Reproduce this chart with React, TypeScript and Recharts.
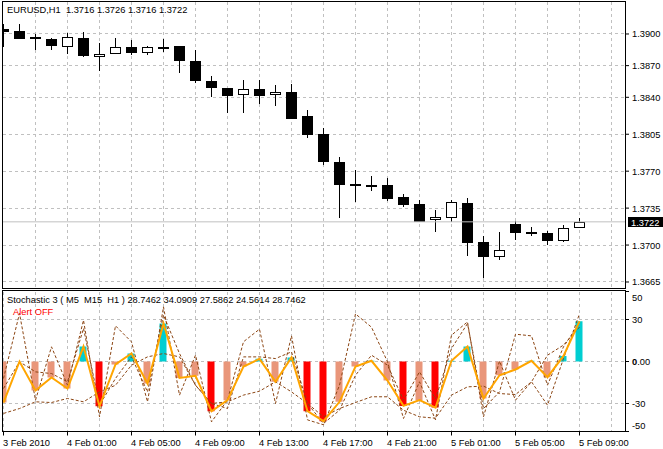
import {
  Bar,
  CartesianGrid,
  Cell,
  ComposedChart,
  Line,
  ReferenceLine,
  XAxis,
  YAxis,
} from "recharts";

const opens = [
  1.3905, 1.3903, 1.3897, 1.3895, 1.3888, 1.3896, 1.3878, 1.3881, 1.3888, 1.3882,
  1.3888, 1.3889, 1.3874, 1.3855, 1.3849, 1.3842, 1.3848, 1.3842, 1.3845, 1.3822,
  1.3805, 1.3779, 1.3758, 1.3757, 1.3757, 1.3746, 1.3739, 1.3724, 1.3726, 1.374,
  1.3703, 1.3689, 1.372, 1.3712, 1.3711, 1.3704, 1.3716,
];
const highs = [
  1.3909, 1.3909, 1.39, 1.3896, 1.3901, 1.3902, 1.3891, 1.3896, 1.3894, 1.3889,
  1.3895, 1.3889, 1.3885, 1.386, 1.3849, 1.3856, 1.3856, 1.3852, 1.3853, 1.3828,
  1.3811, 1.3783, 1.3771, 1.3765, 1.3764, 1.3748, 1.3743, 1.3733, 1.3743, 1.3745,
  1.3709, 1.3712, 1.3723, 1.3717, 1.3713, 1.3719, 1.3726,
];
const lows = [
  1.3888, 1.3895, 1.3885, 1.3885, 1.3881, 1.3878, 1.3865, 1.3881, 1.388, 1.388,
  1.3883, 1.3863, 1.3854, 1.384, 1.3825, 1.3825, 1.3834, 1.3832, 1.3819, 1.3801,
  1.3776, 1.3726, 1.3741, 1.3751, 1.3742, 1.3736, 1.3722, 1.3712, 1.3722, 1.369,
  1.3669, 1.3686, 1.3705, 1.3709, 1.37, 1.3703, 1.3716,
];
const closes = [
  1.3902, 1.3895, 1.3895, 1.3889, 1.3897, 1.3879, 1.3881, 1.3888, 1.3882, 1.3888,
  1.3887, 1.3874, 1.3855, 1.3849, 1.3841, 1.3848, 1.3841, 1.3845, 1.3819, 1.3804,
  1.3779, 1.3757, 1.3756, 1.3755, 1.3744, 1.3738, 1.3722, 1.3727, 1.3741, 1.3702,
  1.3689, 1.3695, 1.3711, 1.371, 1.3704, 1.3716, 1.3722,
];

// orange line, also the histogram height
const signal = [
  -29.3, 0, -20.7, -11.4, -19.3, 10.7, -32, -2.1, 5.7, -15.7, 27.1, -11.7, -10.2,
  -35.5, -27.6, -3.6, 1.9, -14.5, 2.9, -35.5, -42.6, -28.8, -3.6, 0.5, -13.6, -31.7,
  -27.6, -32.9, 0.5, 10.7, -26.4, -9.8, -5.7, 0.5, -11.2, 4, 28.7462,
];
const m5 = [
  -12.1, 34.3, -27.6, 10.5, -16.9, 29.5, -39.5, 25.5, 14, -28.8, 39, -24, 4.5, -43.1,
  -27.6, 14.1, 23.1, -30, 18.3, -41.7, -45.2, -17, 34, 24.5, -0.2, -40.7, -14.5, -41.7,
  18.8, 28.3, -39.5, 0.2, -27.6, -14.5, -31.2, 2.1, 34.0909,
];
const m15 = [
  -19.3, -0.2, -7.4, -8.6, -14.5, 23.6, -31.2, -12.1, 3.3, -21.7, 33.1, 5.7, -16.9, -30,
  -33.6, 3.3, 3.3, 2.1, 6.9, -30, -44.3, -34.8, -9.8, 4.5, -2.6, -27.6, -7.4, -26.7,
  9.3, 27.1, -33.6, -21.7, 19.5, 18.3, -16.9, 10.5, 27.5862,
];
const h1 = [
  -37.1, -33.6, -28.8, -29.3, -26.4, -28.8, -21.7, -17, -2.6, 3.3, 5.7, 3.3, -17, -30,
  -28.8, -24, -21.2, -14.5, -21.7, -30, -39.5, -33.6, -29.3, -25.2, -25.2, -34.8, -39.5,
  -40.5, -24, -18.1, -17.6, -22.9, -23.6, -14.5, 4.5, 11.7, 24.5614,
];

const priceTicks = [1.39, 1.387, 1.384, 1.3805, 1.377, 1.3735, 1.37, 1.3665];
const stochTicks = [50, 30, 0, -30, -50];
const stochGrid = [30, 0, -30];
const timeTicks = [0, 4, 8, 12, 16, 20, 24, 28, 32, 36];
const timeLabels = [
  "3 Feb 2010",
  "4 Feb 01:00",
  "4 Feb 05:00",
  "4 Feb 09:00",
  "4 Feb 13:00",
  "4 Feb 17:00",
  "4 Feb 21:00",
  "5 Feb 01:00",
  "5 Feb 05:00",
  "5 Feb 09:00",
];
const gridSlots = [0, 2, 4, 6, 8, 10, 12, 14, 16, 18, 20, 22, 24, 26, 28, 30, 32, 34, 36, 38];
const lastPrice = 1.3722;

const candles = opens.map((o, i) => ({
  i,
  o,
  c: closes[i],
  range: [lows[i], highs[i]],
}));
const stoch = signal.map((v, i) => ({ i, v, m5: m5[i], m15: m15[i], h1: h1[i] }));

const FONT = '"Liberation Sans", Arial, sans-serif';
const FS = 9.3;
const GRID = "#c0c0c0";
const xDomain = [-0.03125, 38.84375];

function Candle(props: any) {
  const { x, y, width, height, payload } = props;
  const [lo, hi] = payload.range;
  const k = height / (hi - lo || 1);
  const top = Math.round(y + (hi - Math.max(payload.o, payload.c)) * k);
  const bottom = Math.round(y + (hi - Math.min(payload.o, payload.c)) * k);
  const cx = Math.floor(x + width / 2) + 0.5;
  const up = payload.c > payload.o;
  return (
    <g shapeRendering="crispEdges">
      <line x1={cx} x2={cx} y1={Math.round(y)} y2={Math.round(y + height)} stroke="#000" />
      {up ? (
        <rect x={cx - 5} y={top + 0.5} width={10} height={Math.max(bottom - top - 1, 1)} fill="#fff" stroke="#000" />
      ) : (
        <rect x={cx - 5.5} y={top} width={11} height={Math.max(bottom - top, 2)} fill="#000" />
      )}
    </g>
  );
}

function PriceTick(props: any) {
  const { x, y, payload } = props;
  return (
    <text x={x + 1} y={y + 3.5} fontFamily={FONT} fontSize={FS} fill="#000">
      {payload.value.toFixed(4)}
    </text>
  );
}

function StochTick(props: any) {
  const { x, y, payload } = props;
  const v = payload.value;
  // MT4 pushes the extreme labels inside the window
  const shift = v === 50 ? 6 : v === -50 ? -6 : 0;
  return (
    <text x={x + 1} y={y + 3.5 + shift} fontFamily={FONT} fontSize={FS} fill="#000">
      {v === 0 ? (
        <>
          <tspan fontWeight="bold">0</tspan>.00
        </>
      ) : (
        v
      )}
    </text>
  );
}

function TimeTick(props: any) {
  const { x, y, payload, index } = props;
  return (
    <text x={x - 0.5} y={y + 8} fontFamily={FONT} fontSize={FS} fill="#000">
      {timeLabels[index] ?? payload.value}
    </text>
  );
}

function PriceTag(props: any) {
  const { viewBox } = props;
  const ty = Math.round(viewBox.y);
  return (
    <g>
      <rect x={628} y={ty - 5} width={35} height={10} fill="#000" />
      <text x={631} y={ty + 3.5} fontFamily={FONT} fontSize={FS} fill="#fff">
        {lastPrice.toFixed(4)}
      </text>
    </g>
  );
}

const label = (left: number, top: number, color = "#000") =>
  ({
    position: "absolute",
    left,
    top,
    fontFamily: FONT,
    fontSize: FS,
    lineHeight: "12px",
    color,
    whiteSpace: "pre",
  }) as const;

const frame = (top: number, height: number) =>
  ({
    position: "absolute",
    left: 2,
    top,
    width: 624,
    height,
    boxSizing: "border-box",
    border: "1px solid #000",
    pointerEvents: "none",
  }) as const;

export default function App() {
  return (
    <div style={{ position: "absolute", left: 0, top: 0, width: 663, height: 449, background: "#fff", overflow: "hidden" }}>
      <div style={{ position: "absolute", left: 0, top: 0 }}>
        <ComposedChart
          width={663}
          height={290}
          data={candles}
          margin={{ top: 2, right: 0, bottom: 2, left: 3 }}
        >
          <CartesianGrid
            stroke={GRID}
            strokeDasharray="3 3"
            verticalValues={gridSlots}
            horizontalValues={priceTicks}
            shapeRendering="crispEdges"
          />
          <XAxis type="number" dataKey="i" domain={xDomain} allowDataOverflow hide />
          <YAxis
            orientation="right"
            type="number"
            domain={[1.36593, 1.39303]}
            allowDataOverflow
            ticks={priceTicks}
            interval={0}
            width={38}
            axisLine={false}
            tickLine={{ stroke: "#000" }}
            tickSize={4}
            tick={<PriceTick />}
          />
          <ReferenceLine y={lastPrice} stroke={GRID} label={<PriceTag />} />
          <Bar dataKey="range" barSize={11} shape={<Candle />} isAnimationActive={false} />
        </ComposedChart>
      </div>
      <div style={{ position: "absolute", left: 0, top: 290 }}>
        <ComposedChart
          width={663}
          height={159}
          data={stoch}
          margin={{ top: 1.5, right: 0, bottom: 0, left: 3 }}
        >
          <CartesianGrid
            stroke={GRID}
            strokeDasharray="3 3"
            verticalValues={gridSlots}
            horizontalValues={stochGrid}
            shapeRendering="crispEdges"
          />
          <XAxis
            type="number"
            dataKey="i"
            domain={xDomain}
            allowDataOverflow
            ticks={timeTicks}
            interval={0}
            height={17.5}
            axisLine={false}
            tickLine={{ stroke: "#000" }}
            tickSize={4}
            tick={<TimeTick />}
          />
          <YAxis
            orientation="right"
            type="number"
            domain={[-50, 50]}
            allowDataOverflow
            ticks={stochTicks}
            interval={0}
            width={38}
            axisLine={false}
            tickLine={{ stroke: "#000" }}
            tickSize={4}
            tick={<StochTick />}
          />
          <Bar dataKey="v" barSize={7} isAnimationActive={false}>
            {signal.map((v, i) => (
              <Cell key={i} fill={v >= 0 ? "#00CED1" : v < -30 ? "#FF0000" : "#E9967A"} />
            ))}
          </Bar>
          <Line dataKey="m5" type="linear" stroke="#8B4513" strokeWidth={1} strokeDasharray="3 2" dot={false} isAnimationActive={false} />
          <Line dataKey="m15" type="linear" stroke="#8B4513" strokeWidth={1} strokeDasharray="3 2" dot={false} isAnimationActive={false} />
          <Line dataKey="h1" type="linear" stroke="#8B4513" strokeWidth={1} strokeDasharray="3 2" dot={false} isAnimationActive={false} />
          <Line dataKey="v" type="linear" stroke="#FFA500" strokeWidth={2} dot={false} isAnimationActive={false} />
        </ComposedChart>
      </div>
      <div style={frame(1, 288)} />
      <div style={frame(290, 142)} />
      <div style={label(7, 4)}>EURUSD,H1  1.3716 1.3726 1.3716 1.3722</div>
      <div style={label(7, 294)}>Stochastic 3 ( M5  M15  H1 ) 28.7462 34.0909 27.5862 24.5614 28.7462</div>
      <div style={label(13, 306, "#FF0000")}>Alert OFF</div>
    </div>
  );
}
